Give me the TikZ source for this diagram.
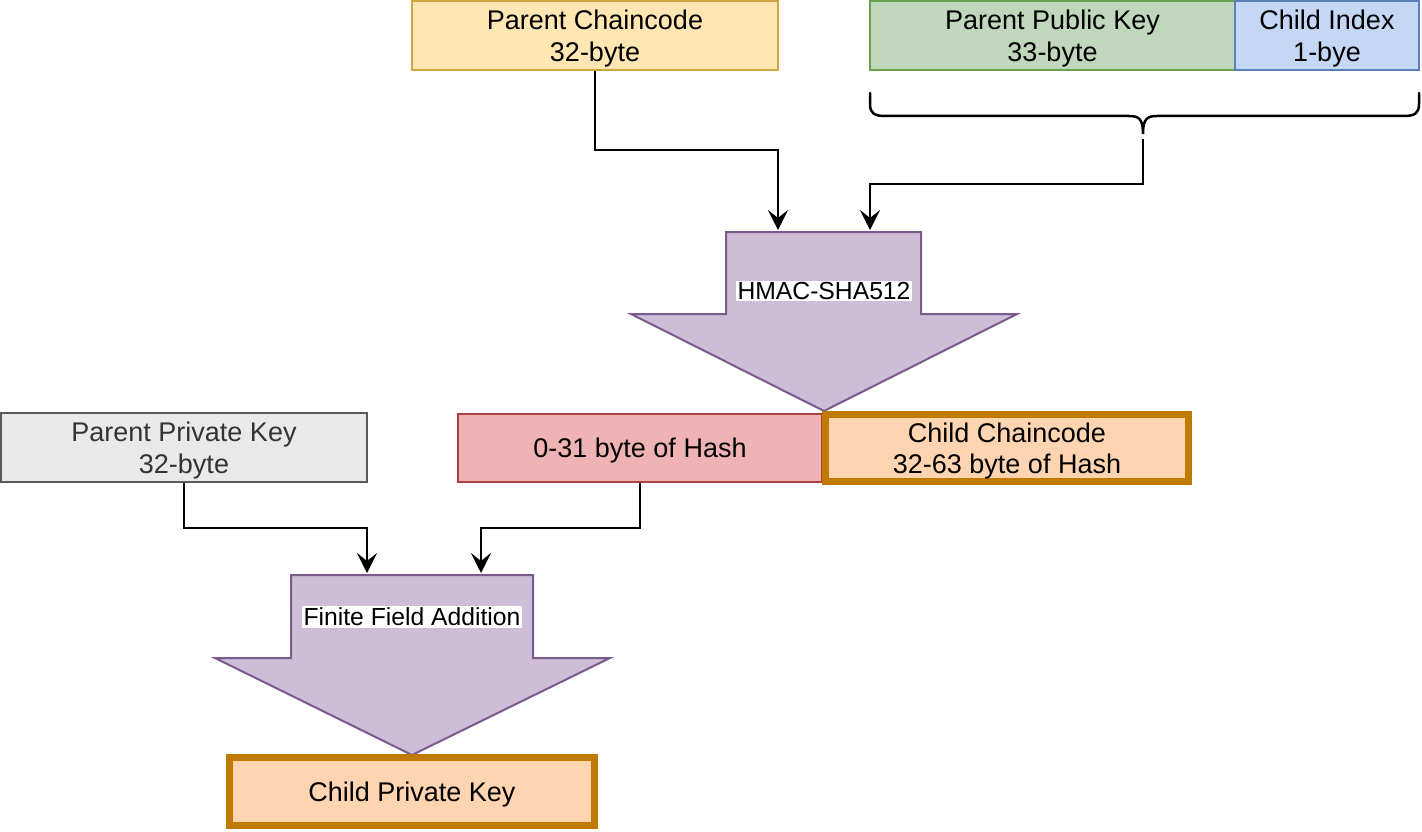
\documentclass[tikz,border=0pt]{standalone}
\usepackage{fontspec}
\setmainfont{Liberation Sans}
\usetikzlibrary{arrows.meta}
\definecolor{ylfill}{HTML}{FFE6B3}
\definecolor{yldraw}{HTML}{CFA640}
\definecolor{grfill}{HTML}{BFD7BA}
\definecolor{grdraw}{HTML}{6AA04E}
\definecolor{blfill}{HTML}{C4D8F6}
\definecolor{bldraw}{HTML}{5B7FB8}
\definecolor{pufill}{HTML}{CDBDD6}
\definecolor{pudraw}{HTML}{7A5A8C}
\definecolor{rdfill}{HTML}{F0B3B3}
\definecolor{rddraw}{HTML}{B0403F}
\definecolor{orfill}{HTML}{FFD4B0}
\definecolor{ordraw}{HTML}{C07A00}
\definecolor{gyfill}{HTML}{E9E9E9}
\definecolor{gydraw}{HTML}{5A5A5A}
\begin{document}
\begin{tikzpicture}[x=1pt,y=-1pt,
  box/.style={draw, line width=2pt, inner sep=0pt, align=center, text depth=0pt,
    font=\fontsize{27}{31.5}\selectfont},
  thickbox/.style={box, line width=7pt},
  conn/.style={line width=2.5pt, -{Stealth[length=20pt,width=20pt,inset=8pt]}},
  opshape/.style={fill=pufill, draw=pudraw, line width=2pt, line join=miter},
  oplabel/.style={fill=white, inner sep=1.5pt, font=\fontsize{24.7}{28}\selectfont}
]
\useasboundingbox (0,0) rectangle (1422,832);

% top boxes
\node[box, fill=ylfill, draw=yldraw, minimum width=366pt, minimum height=69pt] (pcc) at (595,35.5) {Parent Chaincode\\32-byte};
\node[box, fill=grfill, draw=grdraw, minimum width=365pt, minimum height=69pt] (ppk) at (1052.5,35.5) {Parent Public Key\\33-byte};
\node[box, fill=blfill, draw=bldraw, minimum width=184pt, minimum height=69pt] (ci) at (1327,35.5) {Child Index\\1-bye};

% brace
\draw[line width=2.5pt, line cap=round] (870,93) -- (870,104) .. controls (870,113) and (874,116) .. (885,116)
  -- (1129,116) .. controls (1139,116) and (1143,119) .. (1143,134)
  .. controls (1143,119) and (1147,116) .. (1157,116)
  -- (1404,116) .. controls (1415,116) and (1419,113) .. (1419,104) -- (1419,93);
\coordinate (bt) at (1143,139);

% HMAC operation arrow
\draw[opshape] (726,232) -- (921,232) -- (921,314) -- (1017,314) -- (824,411) -- (631,314) -- (726,314) -- cycle;
\coordinate (h1) at (778,230);
\coordinate (h2) at (870,230);
\node[oplabel] (hm) at (824,291) {HMAC-SHA512};

\draw[conn] (pcc.south) -- (595,150) -| (h1);
\draw[conn] (bt) -- (1143,184) -| (h2);

% hash halves
\node[box, fill=rdfill, draw=rddraw, minimum width=364pt, minimum height=68pt] (lo) at (640,448) {0-31 byte of Hash};
\node[thickbox, fill=orfill, draw=ordraw, minimum width=363pt, minimum height=67pt] (cc) at (1007,448) {Child Chaincode\\32-63 byte of Hash};

% parent private key
\node[box, fill=gyfill, draw=gydraw, text=black!80, minimum width=366pt, minimum height=69pt] (ppriv) at (184,447.5) {Parent Private Key\\32-byte};

% finite field addition arrow
\draw[opshape] (291,575) -- (533,575) -- (533,658) -- (610,658) -- (412,755) -- (215,658) -- (291,658) -- cycle;
\coordinate (f1) at (367,573);
\coordinate (f2) at (481,573);
\node[oplabel] (ff) at (412,617) {Finite Field Addition};

\draw[conn] (ppriv.south) -- (184,528) -| (f1);
\draw[conn] (lo.south) -- (640,528) -| (f2);

% child private key
\node[thickbox, fill=orfill, draw=ordraw, minimum width=365pt, minimum height=68pt] (cpk) at (412,791.5) {Child Private Key};
\end{tikzpicture}
\end{document}
